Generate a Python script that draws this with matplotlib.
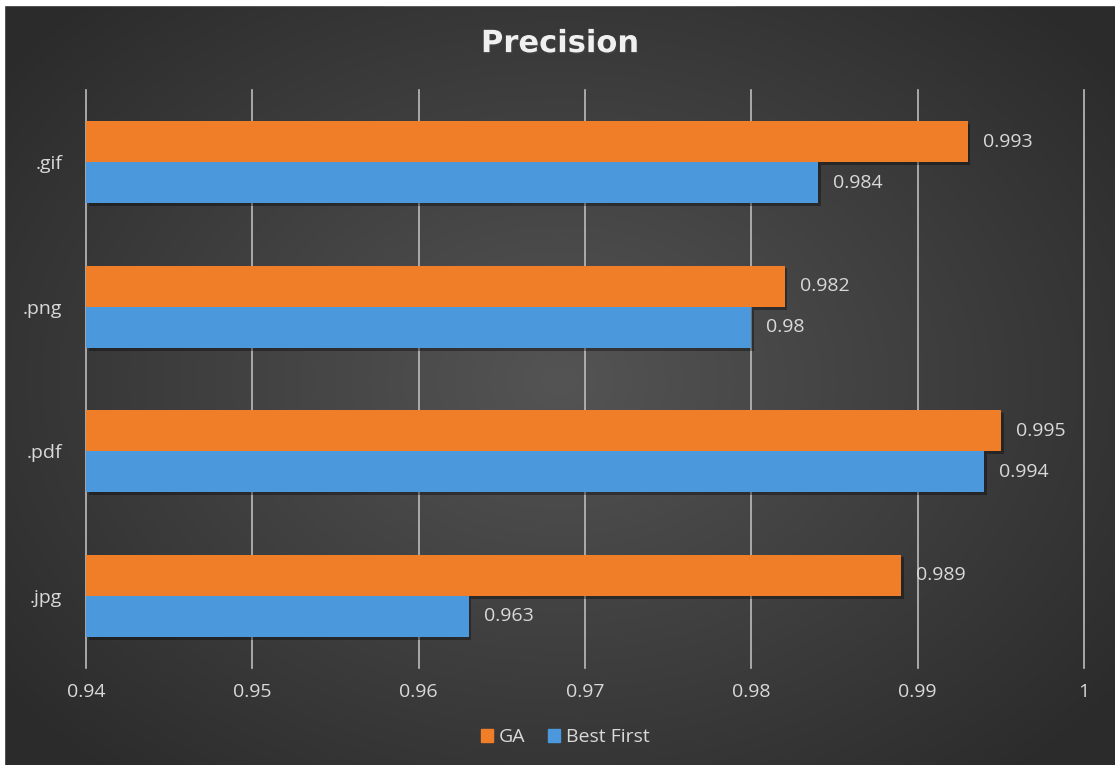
import numpy as np
import matplotlib
matplotlib.use('Agg')
import matplotlib.pyplot as plt
import matplotlib.patheffects as pe
from matplotlib.patches import Patch

# ---------------- data ----------------
categories = ['.jpg', '.pdf', '.png', '.gif']
ga = [0.989, 0.995, 0.982, 0.993]
best_first = [0.963, 0.994, 0.98, 0.984]
xticks = [0.94, 0.95, 0.96, 0.97, 0.98, 0.99, 1.0]
xtick_labels = ['0.94', '0.95', '0.96', '0.97', '0.98', '0.99', '1']

txt = '#d9d9d9'
orange = '#f07d28'
blue = '#4b98dc'

plt.rcParams['font.family'] = ['Open Sans', 'DejaVu Sans']

fig = plt.figure(figsize=(11.15, 7.65), dpi=100)

# radial dark background
bg = fig.add_axes([0, 0, 1, 1], zorder=-10)
yy, xx = np.mgrid[0:765, 0:1115]
r = np.sqrt(((xx - 560) / 700.0) ** 2 + ((yy - 380) / 520.0) ** 2)
shade = 0.33 - 0.16 * np.clip(r, 0, 1)
bg.imshow(np.dstack([shade, shade, shade]), aspect='auto', extent=[0, 1, 0, 1])
bg.set_xlim(0, 1)
bg.set_ylim(0, 1)
bg.axis('off')
# thin white border as in the screenshot
bg.add_patch(plt.Rectangle((0, 0.994), 1, 0.006, color='white', transform=bg.transAxes))
bg.add_patch(plt.Rectangle((0, 0), 0.004, 1, color='white', transform=bg.transAxes))

ax = fig.add_axes([0.0771, 0.1268, 0.8951, 0.7556])
ax.patch.set_alpha(0)

y = np.arange(len(categories))
h = 0.285
shadow = [pe.SimplePatchShadow(offset=(2, -2), shadow_rgbFace='black', alpha=0.35), pe.Normal()]
b1 = ax.barh(y + h / 2, [v - 0.94 for v in ga], left=0.94, height=h, color=orange, zorder=3)
b2 = ax.barh(y - h / 2, [v - 0.94 for v in best_first], left=0.94, height=h, color=blue, zorder=3)
for b in list(b1) + list(b2):
    b.set_path_effects(shadow)

for yi, v in zip(y, ga):
    ax.text(v + 0.0009, yi + h / 2, f'{v:g}', color=txt, fontsize=14, va='center', ha='left')
for yi, v in zip(y, best_first):
    ax.text(v + 0.0009, yi - h / 2, f'{v:g}', color=txt, fontsize=14, va='center', ha='left')

ax.set_xlim(0.94, 1.0)
ax.set_ylim(-0.5, 3.5)
ax.set_xticks(xticks)
ax.set_xticklabels(xtick_labels)
ax.set_yticks(y)
ax.set_yticklabels(categories)
ax.tick_params(axis='both', length=0, colors=txt, labelsize=14)
ax.tick_params(axis='x', pad=11)
ax.tick_params(axis='y', pad=17)
for xv in xticks:
    ax.axvline(xv, color='#bcbcbc', lw=1.2, zorder=0, clip_on=False)
for s in ax.spines.values():
    s.set_visible(False)

fig.text(0.502, 0.943, 'Precision', color='#f0f0f0', fontsize=22, fontweight='bold',
         family='DejaVu Sans', ha='center', va='center',
         path_effects=[pe.withSimplePatchShadow(offset=(1, -1), alpha=0.5)])

handles = [Patch(color=orange, label='GA'), Patch(color=blue, label='Best First')]
leg = fig.legend(handles=handles, loc='center', bbox_to_anchor=(0.507, 0.036), ncol=2,
                 frameon=False, fontsize=14, handlelength=0.6, handleheight=0.6,
                 handletextpad=0.3, columnspacing=1.2)
for t in leg.get_texts():
    t.set_color(txt)

fig.savefig('out.png', dpi=100)
